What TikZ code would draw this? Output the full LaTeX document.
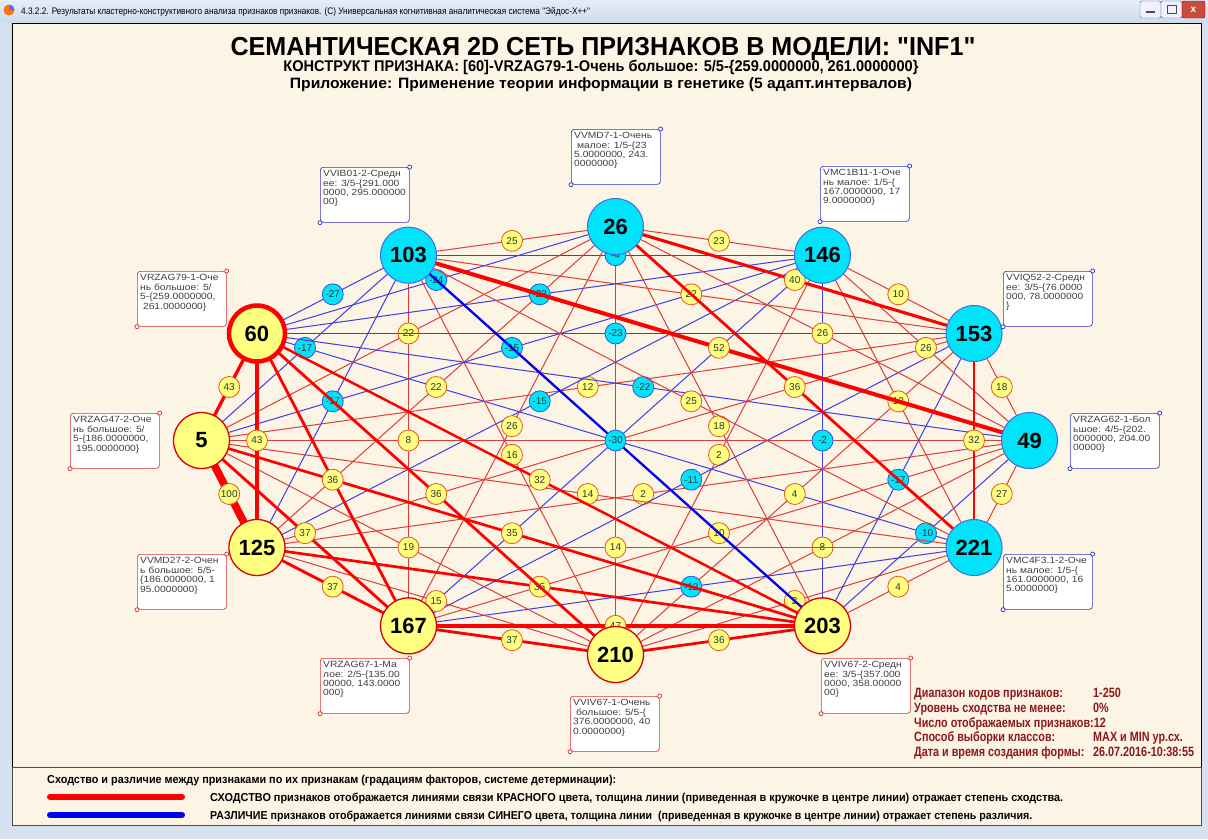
\documentclass[tikz,border=0pt]{standalone}
\usepackage{fontspec}
\setmainfont{Liberation Sans}
\usepackage{graphicx}
\usetikzlibrary{positioning}

\definecolor{paper}{RGB}{252,244,229}
\definecolor{framebg}{RGB}{214,226,240}
\definecolor{featyellow}{RGB}{255,255,128}
\definecolor{featcyan}{RGB}{0,228,250}
\definecolor{linkred}{RGB}{255,0,0}
\definecolor{linkblue}{RGB}{0,0,235}
\definecolor{thinlinkred}{RGB}{222,62,55}
\definecolor{thinlinkblue}{RGB}{62,62,225}
\definecolor{boxred}{RGB}{220,50,50}
\definecolor{boxblue}{RGB}{50,50,200}
\definecolor{infored}{RGB}{140,25,25}

\newcommand\fitw[2]{\resizebox{#1}{\height}{#2}}
\newcommand\nar[1]{\scalebox{0.8}[1]{#1}}
\newcommand\boxtxt[4]{\fontsize{9}{9.4}\selectfont\scalebox{1.14}[1]{\begin{tabular}{@{}l@{}}#1\\#2\\#3\\#4\end{tabular}}}

\begin{document}
\begin{tikzpicture}[x=1pt,y=-1pt,
    feat/.style={circle, minimum size=56pt, inner sep=0pt, font=\fontsize{22}{22}\selectfont\bfseries},
    featpos/.style={feat, fill=featyellow, draw=red!85!black, line width=1.3pt},
    featneg/.style={feat, fill=featcyan, draw={rgb,255:red,60;green,110;blue,230}, line width=1pt},
    val/.style={circle, minimum size=21pt, inner sep=0pt, font=\fontsize{10}{10}\selectfont, text=black!80},
    valpos/.style={val, fill=featyellow, draw={rgb,255:red,225;green,90;blue,30}, line width=0.8pt},
    valneg/.style={val, fill=featcyan, draw={rgb,255:red,40;green,90;blue,220}, line width=0.8pt},
    infobox/.style={draw=#1, fill=white, rounded corners=3pt, minimum width=89pt, minimum height=55pt, inner sep=0pt, anchor=north west, line width=0.7pt},
    boxtext/.style={anchor=north west, inner sep=0pt, text=black!75},
    infotxt/.style={anchor=base west, inner sep=0pt, text=infored, font=\fontsize{13.5}{14}\selectfont\bfseries}]
\useasboundingbox (0,0) rectangle (1208,839);
% window
\fill[framebg] (0,0) rectangle (1208,839);
\shade[top color={rgb,255:red,228;green,237;blue,248}, bottom color={rgb,255:red,205;green,220;blue,238}] (0,0) rectangle (1208,22);
\fill[orange!90!red] (9,10) circle (5.5);
\fill[blue!60] (9,10) -- (14.5,10) arc (0:-90:5.5) -- cycle;
\node[anchor=base west, inner sep=0pt, font=\fontsize{9.5}{10}\selectfont] (wintitle) at (21,14) {\fitw{569pt}{4.3.2.2. Результаты кластерно-конструктивного анализа признаков признаков. (С) Универсальная когнитивная аналитическая система \textquotedbl Эйдос-Х++\textquotedbl}};
\draw[gray!70!blue, fill=blue!6, rounded corners=2pt] (1140,1) rectangle (1161,18);
\draw[gray!70!blue, fill=blue!6, rounded corners=2pt] (1161,1) rectangle (1182,18);
\draw[red!60!black, fill={rgb,255:red,200;green,75;blue,60}, rounded corners=2pt] (1182,1) rectangle (1205,18);
\draw[gray!60!black, line width=1.5pt] (1146,12) -- (1155,12);
\draw[gray!60!black, line width=0.8pt] (1167,5) rectangle (1176,13);
\node[text=white, font=\bfseries\fontsize{10}{10}\selectfont] (winclose) at (1193.5,9.5) {x};
\draw[black, fill=paper] (12,23) rectangle (1201,767);
\draw[black!70, fill=paper] (12,767) rectangle (1201,825);

% titles
\node[anchor=base, inner sep=0pt, font=\fontsize{26}{26}\selectfont\bfseries] (title) at (603,55) {\fitw{745pt}{СЕМАНТИЧЕСКАЯ 2D СЕТЬ ПРИЗНАКОВ В МОДЕЛИ: \textquotedbl INF1\textquotedbl}};
\node[anchor=base, inner sep=0pt, font=\fontsize{15.5}{16}\selectfont\bfseries] (constr) at (601,71) {\fitw{635pt}{КОНСТРУКТ ПРИЗНАКА: [60]-VRZAG79-1-Очень большое: 5/5-\{259.0000000, 261.0000000\}}};
\node[anchor=base, inner sep=0pt, font=\fontsize{15}{16}\selectfont\bfseries] (appl) at (601,88) {\fitw{622pt}{Приложение: Применение теории информации в генетике (5 адапт.интервалов)}};

% feature positions on the ellipse
\foreach \f/\ang in {26/90,146/60,153/30,49/0,221/-30,203/-60,210/-90,167/-120,125/-150,5/180,60/150,103/120}
  \coordinate (c\f) at ({615.5+414*cos(\ang)},{440.5-214*sin(\ang)});

% opposite pairs
\draw[thinlinkred, line width=1pt] (c26) -- (c210);
\draw[thinlinkred, line width=1pt] (c5) -- (c49);
\draw[thinlinkred, line width=1pt] (c153) -- (c125);
\draw[thinlinkblue, line width=1pt] (c146) -- (c167);
\draw[thinlinkblue, line width=1pt] (c60) -- (c221);

% links
\foreach \a/\b/\v in {221/210/2,146/210/2,49/125/2,146/203/-2,221/203/4,153/210/4,103/146/-4,
    49/210/8,167/103/8,146/153/10,49/167/10,49/203/-10,153/167/-11,5/153/12,221/167/-12,
    146/221/13,221/125/14,221/5/14,210/125/15,5/146/-15,125/146/-15,210/103/16,
    5/103/-17,153/203/-17,125/103/-17,153/49/18,26/203/18,210/5/19,
    5/26/22,103/153/22,125/26/22,60/49/-22,26/146/23,60/146/-23,60/153/-23,60/26/-24,
    103/26/25,103/221/25,146/49/26,26/49/26,167/26/26,49/221/27,60/103/-27,
    103/203/-30,153/221/32,203/60/32,203/125/35,203/5/35,
    203/210/36,167/60/36,26/221/36,210/60/36,210/167/37,167/125/37,167/5/37,
    26/153/40,5/60/43,125/60/43,203/167/47,103/49/52,125/5/100}
{
  \pgfmathtruncatemacro\isbig{abs(\v)>=29}
  \ifnum\v<0 \def\lcol{linkblue}\def\vsty{valneg}\else \def\lcol{linkred}\def\vsty{valpos}\fi
  \ifnum\isbig=0 \edef\lcol{thin\lcol}\fi
  \pgfmathsetmacro\w{\isbig ? abs(\v)/13 : 1}
  \draw[draw=\lcol, line width=\w pt] (c\a) -- (c\b) node[midway,\vsty] (v\a-\b) {\v};
}

% features
\foreach \f in {26,146,153,49,221,103}
  \node[featneg] (n\f) at (c\f) {\f};
\foreach \f in {203,210,167,125,5}
  \node[featpos] (n\f) at (c\f) {\f};
\node[featpos, draw=red, line width=4.5pt] (n60) at (c60) {60};

% feature boxes
\node[infobox=boxblue] (b103) at (320,167) {};
\node[infobox=boxred] (b60) at (137,271) {};
\node[infobox=boxblue] (b26) at (571,129) {};
\node[infobox=boxblue] (b146) at (820,166) {};
\node[infobox=boxblue] (b153) at (1003,271) {};
\node[infobox=boxblue] (b49) at (1070,413) {};
\node[infobox=boxred] (b5) at (70,413) {};
\node[infobox=boxred] (b125) at (137,554) {};
\node[infobox=boxred] (b167) at (320,658) {};
\node[infobox=boxred] (b210) at (570,696) {};
\node[infobox=boxred] (b203) at (821,658) {};
\node[infobox=boxblue] (b221) at (1003,554) {};
\foreach \b/\c in {b103/boxblue,b60/boxred,b26/boxblue,b146/boxblue,b153/boxblue,b49/boxblue,
    b5/boxred,b125/boxred,b167/boxred,b210/boxred,b203/boxred,b221/boxblue}
  \draw[\c, fill=white, line width=0.7pt] (\b.north east) circle (2pt) (\b.south west) circle (2pt);

\node[boxtext] (t103) at ([xshift=3pt,yshift=-3pt]b103.north west) {\boxtxt{VVIB01-2-Средн}{ее: 3/5-\{291.000}{0000, 295.000000}{00\}}};
\node[boxtext] (t60) at ([xshift=3pt,yshift=-3pt]b60.north west) {\boxtxt{VRZAG79-1-Оче}{нь большое: 5/}{5-\{259.0000000,}{\ 261.0000000\}}};
\node[boxtext] (t26) at ([xshift=3pt,yshift=-3pt]b26.north west) {\boxtxt{VVMD7-1-Очень}{\ малое: 1/5-\{23}{5.0000000, 243.}{0000000\}}};
\node[boxtext] (t146) at ([xshift=3pt,yshift=-3pt]b146.north west) {\boxtxt{VMC1B11-1-Оче}{нь малое: 1/5-\{}{167.0000000, 17}{9.0000000\}}};
\node[boxtext] (t153) at ([xshift=3pt,yshift=-3pt]b153.north west) {\boxtxt{VVIQ52-2-Средн}{ее: 3/5-\{76.0000}{000, 78.0000000}{\}}};
\node[boxtext] (t49) at ([xshift=3pt,yshift=-3pt]b49.north west) {\boxtxt{VRZAG62-1-Бол}{ьшое: 4/5-\{202.}{0000000, 204.00}{00000\}}};
\node[boxtext] (t5) at ([xshift=3pt,yshift=-3pt]b5.north west) {\boxtxt{VRZAG47-2-Оче}{нь большое: 5/}{5-\{186.0000000,}{\ 195.0000000\}}};
\node[boxtext] (t125) at ([xshift=3pt,yshift=-3pt]b125.north west) {\boxtxt{VVMD27-2-Очен}{ь большое: 5/5-}{\{186.0000000, 1}{95.0000000\}}};
\node[boxtext] (t167) at ([xshift=3pt,yshift=-3pt]b167.north west) {\boxtxt{VRZAG67-1-Ма}{лое: 2/5-\{135.00}{00000, 143.0000}{000\}}};
\node[boxtext] (t210) at ([xshift=3pt,yshift=-3pt]b210.north west) {\boxtxt{VVIV67-1-Очень}{\ большое: 5/5-\{}{376.0000000, 40}{0.0000000\}}};
\node[boxtext] (t203) at ([xshift=3pt,yshift=-3pt]b203.north west) {\boxtxt{VVIV67-2-Средн}{ее: 3/5-\{357.000}{0000, 358.00000}{00\}}};
\node[boxtext] (t221) at ([xshift=3pt,yshift=-3pt]b221.north west) {\boxtxt{VMC4F3.1-2-Оче}{нь малое: 1/5-\{}{161.0000000, 16}{5.0000000\}}};

% parameters
\node[infotxt] (i1) at (914,697) {\nar{Диапазон кодов признаков:}};
\node[infotxt] (i1v) at (1093,697) {\nar{1-250}};
\node[infotxt] (i2) at (914,712) {\nar{Уровень сходства не менее:}};
\node[infotxt] (i2v) at (1093,712) {\nar{0\%}};
\node[infotxt] (i3) at (914,727) {\nar{Число отображаемых признаков:12}};
\node[infotxt] (i4) at (914,741) {\nar{Способ выборки классов:}};
\node[infotxt] (i4v) at (1093,741) {\nar{MAX и MIN ур.сх.}};
\node[infotxt] (i5) at (914,756) {\nar{Дата и время создания формы:}};
\node[infotxt] (i5v) at (1093,756) {\nar{26.07.2016-10:38:55}};

% legend
\node[anchor=base west, inner sep=0pt, font=\fontsize{11.5}{12}\selectfont\bfseries] (leg0) at (47,783) {\fitw{569pt}{Сходство и различие между признаками по их признакам (градациям факторов, системе детерминации):}};
\draw[linkred, line width=6pt, line cap=round] (50,797) -- (182,797);
\draw[linkblue, line width=6pt, line cap=round] (50,815) -- (182,815);
\node[anchor=base west, inner sep=0pt, font=\fontsize{11.5}{12}\selectfont\bfseries] (leg1) at (210,801) {\fitw{853pt}{СХОДСТВО признаков отображается линиями связи КРАСНОГО цвета, толщина линии (приведенная в кружочке в центре линии) отражает степень сходства.}};
\node[anchor=base west, inner sep=0pt, font=\fontsize{11.5}{12}\selectfont\bfseries] (leg2) at (210,819) {\fitw{822pt}{РАЗЛИЧИЕ признаков отображается линиями связи СИНЕГО цвета, толщина линии\ \ (приведенная в кружочке в центре линии) отражает степень различия.}};
\end{tikzpicture}
\end{document}
